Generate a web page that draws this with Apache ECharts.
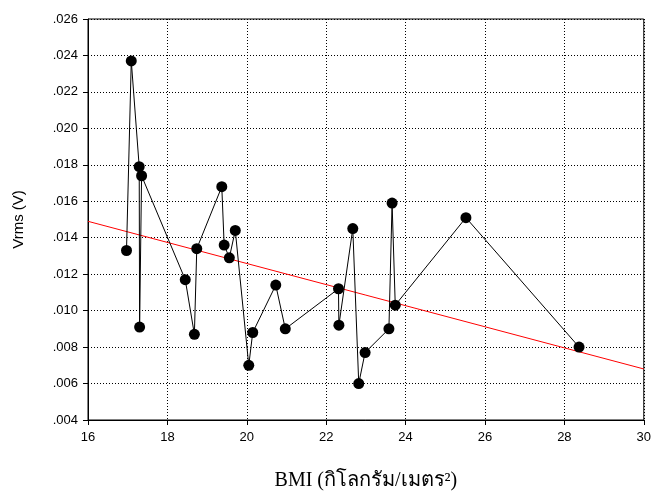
<!DOCTYPE html>
<html style="height: 498px;width: 654px;">
<head>
  <meta charset="UTF-8">
  <title>Vrms vs BMI</title>
  <script src="https://cdn.jsdelivr.net/npm/echarts@6/dist/echarts.min.js"></script>
</head>
<body style="margin: 0;height: 100%;width: 100%;background: #fff;">
<div id="chart" style="width: 654px;height: 498px;"></div>
<script>
// BMI values (x) and Vrms values (y), in drawing order
var bmi = [16.97, 17.09, 17.29, 17.30, 17.35, 18.45, 18.68, 18.74, 19.37, 19.43, 19.56, 19.71,
           20.05, 20.15, 20.73, 20.97, 22.31, 22.32, 22.67, 22.82, 22.98, 23.58, 23.66, 23.74,
           25.52, 28.37];
var vrms = [0.0133, 0.0237, 0.0179, 0.0091, 0.0174, 0.0117, 0.0087, 0.0134, 0.0168, 0.0136, 0.0129, 0.0144,
            0.0070, 0.0088, 0.0114, 0.0090, 0.0112, 0.0092, 0.0145, 0.0060, 0.0077, 0.0090, 0.0159, 0.0103,
            0.0151, 0.0080];
// regression line end points
var fitX = [16, 30];
var fitY = [0.0149, 0.0068];

var pts = bmi.map(function(x, i){ return [x, vrms[i]]; });
var fit = fitX.map(function(x, i){ return [x, fitY[i]]; });

var dotted = { color: '#000', width: 1, type: [1, 2] };

var option = {
    animation: false,
    grid: { left: 88, right: 8, top: 19, bottom: 78, show: true, borderColor: '#000', borderWidth: 1 },
    xAxis: {
        type: 'value', min: 16, max: 30, interval: 2,
        name: 'BMI (กิโลกรัม/เมตร²)',
        nameLocation: 'middle', nameGap: 51,
        nameTextStyle: { fontFamily: 'Liberation Serif, serif', fontSize: 20, color: '#000' },
        axisLine: { lineStyle: { color: '#000' } },
        axisTick: { lineStyle: { color: '#000' }, length: 5 },
        axisLabel: { color: '#000', fontFamily: 'Liberation Sans', fontSize: 13, margin: 11 },
        splitLine: { show: true, lineStyle: dotted }
    },
    yAxis: {
        type: 'value', min: 0.004, max: 0.026, interval: 0.002,
        name: 'Vrms (V)',
        nameLocation: 'middle', nameGap: 62, nameRotate: 90,
        nameTextStyle: { fontFamily: 'Liberation Sans', fontSize: 15, color: '#000' },
        axisLine: { show: true, lineStyle: { color: '#000' } },
        axisTick: { show: true, lineStyle: { color: '#000' }, length: 5 },
        axisLabel: {
            color: '#000', fontFamily: 'Liberation Sans', fontSize: 13, margin: 10,
            formatter: function(v){ return v.toFixed(3).replace(/^0/, ''); }
        },
        splitLine: { show: true, lineStyle: dotted }
    },
    series: [
        {
            type: 'line', data: fit, symbol: 'none',
            lineStyle: { color: '#ff0000', width: 1 }, z: 2
        },
        {
            type: 'line', data: pts, symbol: 'circle', symbolSize: 11,
            itemStyle: { color: '#000' },
            lineStyle: { color: '#000', width: 1 }, z: 3
        }
    ]
};

var chart = echarts.init(document.getElementById('chart'));
chart.setOption(option);
</script>
</body>
</html>
